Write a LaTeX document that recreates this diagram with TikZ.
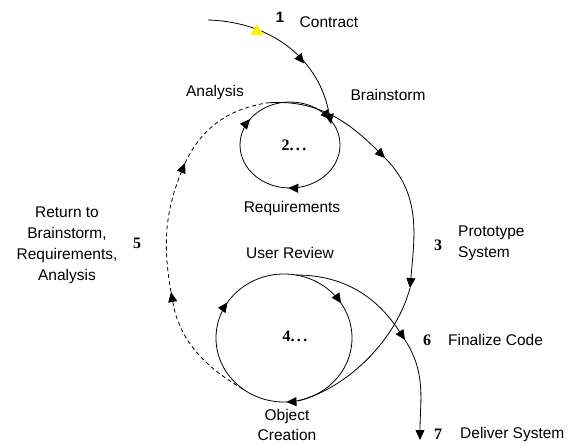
\documentclass[tikz,border=0pt]{standalone}
\usepackage{fontspec}
\setmainfont{Liberation Sans}
\newfontfamily\numfont{Liberation Serif}
\usetikzlibrary{arrows.meta,decorations.markings}

\tikzset{
  lbl/.style={font=\fontsize{15.5}{21}\selectfont, inner sep=0pt, align=center},
  num/.style={font=\numfont\bfseries\fontsize{16}{18}\selectfont, inner sep=0pt},
  sanum/.style={font=\bfseries\fontsize{15}{18}\selectfont, inner sep=0pt},
  flow/.style={line width=0.8pt, black},
  tip/.style={-{Triangle[length=10pt,width=9pt]}},
  retflow/.style={flow, dash pattern=on 4pt off 3pt},
  midarrow/.style={postaction=decorate, decoration={markings,
      mark=at position #1 with {\arrow{Triangle[length=10pt,width=9pt]}}}},
  loopmarks/.style n args={3}{postaction=decorate, decoration={markings,
      mark=at position #1 with {\arrowreversed{Triangle[length=10pt,width=9pt]}},
      mark=at position #2 with {\arrowreversed{Triangle[length=10pt,width=9pt]}},
      mark=at position #3 with {\arrowreversed{Triangle[length=10pt,width=9pt]}}}},
}

\begin{document}
\begin{tikzpicture}[x=1pt,y=1pt]
\useasboundingbox (0,0) rectangle (573,-445);

% loops
\coordinate (c2) at (290,-145);
\coordinate (c4) at (284,-338);
\draw[flow, loopmarks={0.094}{0.403}{0.744}] (c2) ellipse [x radius=50, y radius=43];
\draw[flow, loopmarks={0.089}{0.408}{0.756}] (c4) ellipse [x radius=68, y radius=64];

% named points of the connectors
\coordinate (a0) at (208,-20);
\coordinate (a1) at (331,-124);
\coordinate (y1) at (257.5,-30);
\coordinate (b0) at (266,-103);
\coordinate (b1) at (385,-158);
\coordinate (b2) at (410,-288);
\coordinate (b3) at (298,-401);
\coordinate (k0) at (296,-275);
\coordinate (k1) at (405,-340);
\coordinate (k2) at (420,-440);
\coordinate (d0) at (243,-389);
\coordinate (d1) at (171,-292);
\coordinate (d2) at (185,-163);

% 1: contract
\draw[flow, tip, midarrow=0.62] (a0) .. controls (275,-22) and (320,-62) .. (a1);
\fill[yellow] ([xshift=-7pt,yshift=-5pt]y1) -- ([xshift=6.5pt,yshift=-5pt]y1) -- ([xshift=-1pt,yshift=5.5pt]y1) -- cycle;

% outer loop: brainstorm -> prototype -> object creation
\draw[flow, tip] (b0) to[out=5, in=135] (b1);
\draw[flow, tip] (b1) to[out=-45, in=85] (b2);
\draw[flow] (b2) to[out=-105, in=15, looseness=0.85] (b3);

% user review -> finalize -> deliver
\draw[flow, tip] (k0) to[out=0, in=123] (k1);
\draw[flow, tip] (k1) to[out=-57, in=90] (k2);

% 5: return (dashed)
\draw[retflow, tip] (d0) to[out=150, in=280] (d1);
\draw[retflow, tip] (d1) to[out=100, in=248] (d2);
\draw[retflow] (d2) to[out=64, in=190] (b0);

% labels
\node[sanum] (n1) at (280,-17) {1};
\node[lbl] (tcontract) at (329,-22) {Contract};
\node[lbl] (tanalysis) at (215,-92) {Analysis};
\node[lbl] (tbrain) at (388,-95) {Brainstorm};
\node[num] (t2) at (294,-145) {2.\kern2.5pt.\kern2.5pt.};
\node[lbl] (treq) at (292,-208) {Requirements};
\node[lbl] (treview) at (290,-253) {User Review};
\node[num] (n3) at (438,-245) {3};
\node[lbl, anchor=west, align=left] (tproto) at (458,-243) {Prototype\\System};
\node[num] (n5) at (137,-243) {5};
\node[lbl] (treturn) at (67,-245) {Return to\\Brainstorm,\\Requirements,\\Analysis};
\node[num] (t4) at (295,-336) {4.\kern2.5pt.\kern2.5pt.};
\node[num] (n6) at (427,-340) {6};
\node[lbl, anchor=west] (tfinal) at (448,-340) {Finalize Code};
\node[lbl, font=\fontsize{15.5}{20}\selectfont] (tobject) at (287,-424.5) {Object\\Creation};
\node[num] (n7) at (438,-434) {7};
\node[lbl, anchor=west] (tdeliver) at (460,-434) {Deliver System};
\end{tikzpicture}
\end{document}
